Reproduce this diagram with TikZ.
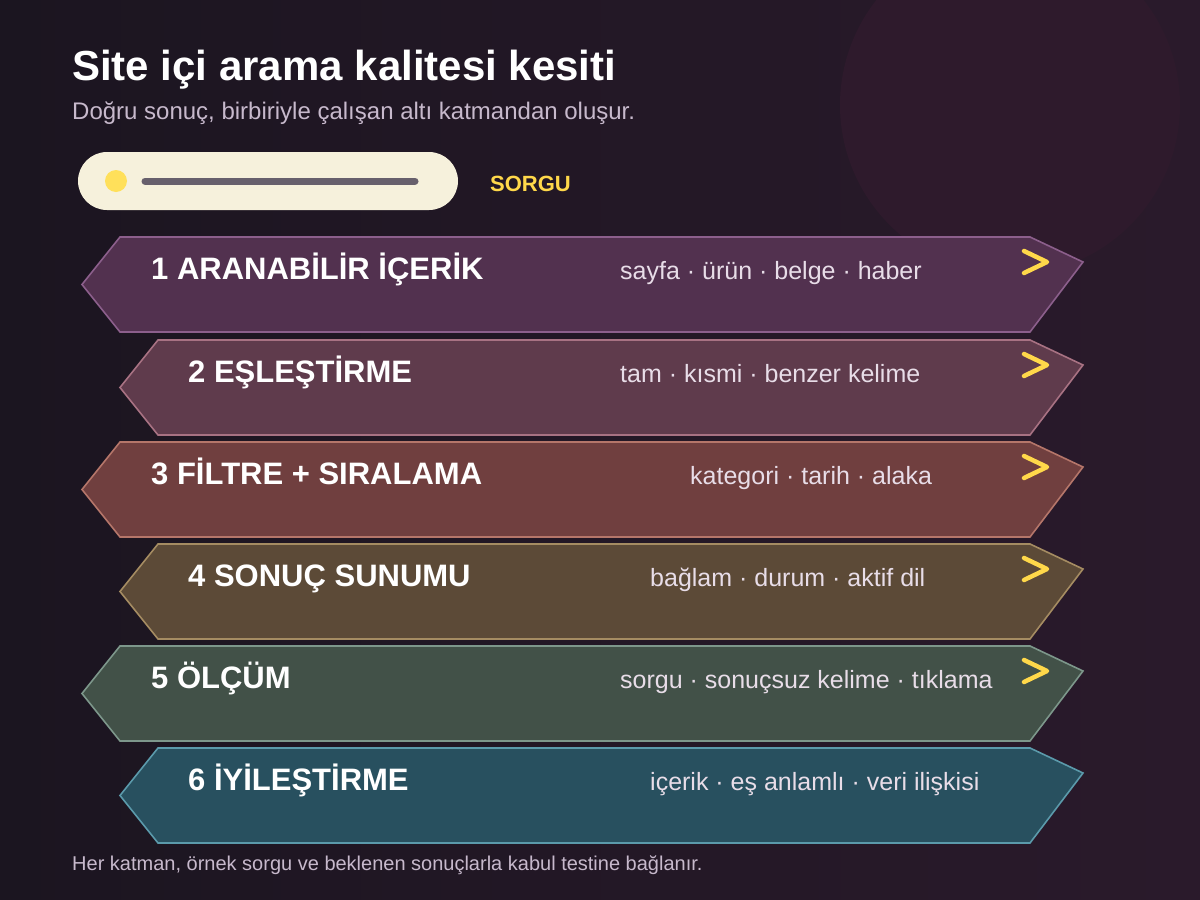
\documentclass[tikz,border=0pt]{standalone}
\usepackage{fontspec}
\setmainfont{Liberation Sans}
\definecolor{bgA}{HTML}{1B1520}
\definecolor{bgB}{HTML}{2A1A2B}
\definecolor{orb}{HTML}{2E1A2C}
\definecolor{pill}{HTML}{F6F1DC}
\definecolor{dot}{HTML}{FFE05A}
\definecolor{barc}{HTML}{67606C}
\definecolor{gold}{HTML}{FFD84A}
\definecolor{subc}{HTML}{C7B9CC}
\definecolor{descc}{HTML}{E8DDE8}
\definecolor{fA}{HTML}{52314F}\definecolor{sA}{HTML}{8C5F8C}
\definecolor{fB}{HTML}{5F3B4C}\definecolor{sB}{HTML}{A87283}
\definecolor{fC}{HTML}{703F3F}\definecolor{sC}{HTML}{B5766A}
\definecolor{fD}{HTML}{5C4A37}\definecolor{sD}{HTML}{A58C62}
\definecolor{fE}{HTML}{425148}\definecolor{sE}{HTML}{7D978B}
\definecolor{fF}{HTML}{28505F}\definecolor{sF}{HTML}{5B9AAB}
\begin{document}
\begin{tikzpicture}[x=1pt,y=-1pt,
  bandtitle/.style={anchor=base west,inner sep=0pt,text=white,font=\fontsize{31}{35}\selectfont\bfseries},
  banddesc/.style={anchor=base west,inner sep=0pt,text=descc,font=\fontsize{25}{29}\selectfont},
  chev/.style={draw=gold,line width=4.5pt,line cap=round,line join=round},
  bandshape/.style={line width=1.6pt,line join=miter}]
\useasboundingbox (0,0) rectangle (1200,900);
\shade[shading angle=135,left color=bgA,right color=bgB] (0,0) rectangle (1200,900);
\fill[orb] (1010,105) circle[radius=170pt];
% title
\node[anchor=base west,inner sep=0pt,text=white,font=\fontsize{42}{46}\selectfont\bfseries] (title) at (72,80) {Site içi arama kalitesi kesiti};
\node[anchor=base west,inner sep=0pt,text=subc,font=\fontsize{24}{28}\selectfont] (sub) at (72,119) {Doğru sonuç, birbiriyle çalışan altı katmandan oluşur.};
% search pill
\fill[pill,rounded corners=29pt] (78,152) rectangle (458,210);
\coordinate (pill) at (268,181);
\fill[dot] (116,181) circle[radius=11pt];
\draw[barc,line width=7pt,line cap=round] (145,181) -- (415,181);
\node[anchor=base west,inner sep=0pt,text=gold,font=\fontsize{22}{26}\selectfont\bfseries] (sorgu) at (490,191) {SORGU};
% bands
\foreach \t/\l/\f/\s/\ttl/\tx/\desc/\dx/\ch in {
  237/82/fA/sA/{1 ARANABİLİR İÇERİK}/151/{sayfa · ürün · belge · haber}/620/1,
  340/120/fB/sB/{2 EŞLEŞTİRME}/188/{tam · kısmi · benzer kelime}/620/1,
  442/82/fC/sC/{3 FİLTRE + SIRALAMA}/151/{kategori · tarih · alaka}/690/1,
  544/120/fD/sD/{4 SONUÇ SUNUMU}/188/{bağlam · durum · aktif dil}/650/1,
  646/82/fE/sE/{5 ÖLÇÜM}/151/{sorgu · sonuçsuz kelime · tıklama}/620/1,
  748/120/fF/sF/{6 İYİLEŞTİRME}/188/{içerik · eş anlamlı · veri ilişkisi}/650/0}{
  \pgfmathsetmacro{\b}{\t+95}
  \pgfmathsetmacro{\m}{\t+47.5}
  \pgfmathsetmacro{\c}{\l+38}
  \pgfmathsetmacro{\tip}{\t+25}
  \draw[bandshape,fill=\f,draw=\s] (\c,\t) -- (1030,\t) -- (1083,\tip) -- (1030,\b) -- (\c,\b) -- (\l,\m) -- cycle;
  \node[bandtitle] (title-\t) at (\tx,\t+42) {\ttl};
  \node[banddesc] (desc-\t) at (\dx,\t+42) {\desc};
  \ifnum\ch=1
    \draw[chev] (1024,\t+14) -- (1047,\t+25) -- (1024,\t+36);
  \fi
}
\node[anchor=base west,inner sep=0pt,text=subc,font=\fontsize{20}{24}\selectfont] (foot) at (72,870) {Her katman, örnek sorgu ve beklenen sonuçlarla kabul testine bağlanır.};
\end{tikzpicture}
\end{document}
